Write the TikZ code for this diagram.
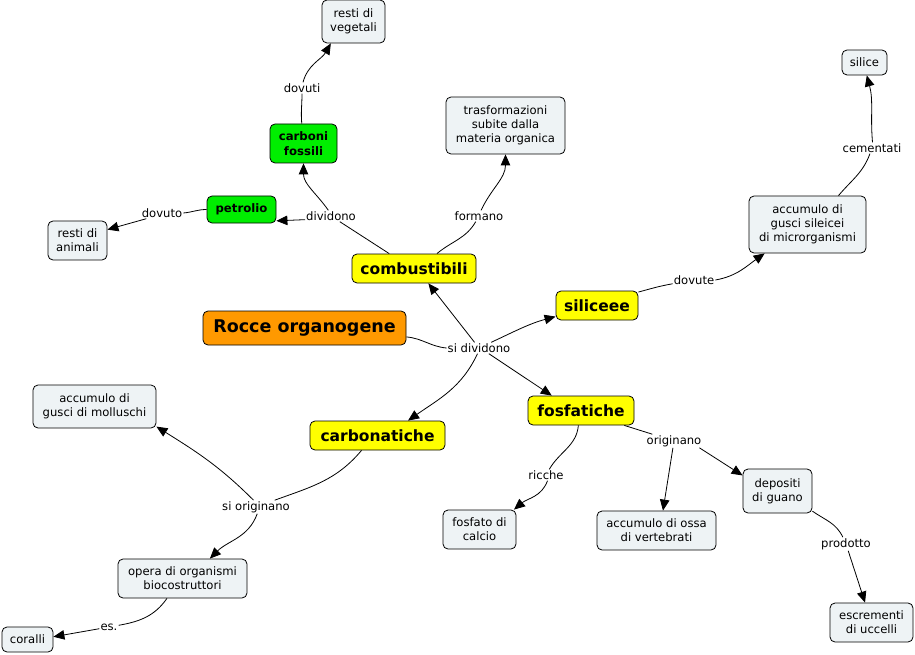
\documentclass[tikz,border=0pt]{standalone}
\usepackage{fontspec}
\setmainfont{DejaVu Sans}
\usetikzlibrary{arrows.meta}
\definecolor{boxfill}{RGB}{238,243,245}
\definecolor{yel}{RGB}{255,255,0}
\definecolor{grn}{RGB}{0,238,0}
\definecolor{org}{RGB}{255,153,0}
\begin{document}
\begin{tikzpicture}[x=1pt,y=1pt,
  base/.style={draw=black, line width=0.8pt, rounded corners=5pt, inner sep=0pt, align=center},
  concept/.style={base, fill=boxfill, font=\fontsize{11.6}{14.2}\selectfont},
  yellowbox/.style={base, fill=yel, font=\fontsize{15.5}{18}\selectfont\bfseries},
  greenbox/.style={base, fill=grn, font=\fontsize{11.7}{14.5}\selectfont\bfseries},
  orangebox/.style={base, fill=org, font=\fontsize{17.5}{20}\selectfont\bfseries},
  lab/.style={fill=white, inner sep=1pt, font=\fontsize{11.6}{14}\selectfont},
  con/.style={draw=black, line width=0.8pt},
  arr/.style={con, -{Triangle[length=11pt,width=9.5pt]}}
]
\useasboundingbox (0,0) rectangle (915,-655);

% concept nodes
\node[concept, minimum width=63pt, minimum height=43pt] (veg) at (353.5,-21.5) {resti di\\vegetali};
\node[greenbox, minimum width=67pt, minimum height=39pt] (carb) at (303.5,-143.5) {carboni\\fossili};
\node[concept, minimum width=119pt, minimum height=57pt] (trasf) at (505.5,-125.5) {trasformazioni\\subite dalla\\materia organica};
\node[greenbox, minimum width=69pt, minimum height=27pt] (petr) at (241.5,-209.5) {petrolio};
\node[concept, minimum width=59pt, minimum height=39pt] (anim) at (77.5,-240.5) {resti di\\animali};
\node[yellowbox, minimum width=124pt, minimum height=29pt] (comb) at (414,-268.5) {combustibili};
\node[orangebox, minimum width=203pt, minimum height=34pt] (rocce) at (304.5,-328) {Rocce organogene};
\node[yellowbox, minimum width=82pt, minimum height=29pt] (silic) at (597,-305.5) {siliceee};
\node[concept, minimum width=117pt, minimum height=57pt] (micro) at (807.5,-224.5) {accumulo di\\gusci sileicei\\di microrganismi};
\node[concept, minimum width=45pt, minimum height=25pt] (silice) at (864.5,-62.5) {silice};
\node[yellowbox, minimum width=106pt, minimum height=29pt] (fosf) at (581,-410.5) {fosfatiche};
\node[yellowbox, minimum width=135pt, minimum height=29pt] (carbo) at (377.5,-435.5) {carbonatiche};
\node[concept, minimum width=123pt, minimum height=43pt] (moll) at (94.5,-406.5) {accumulo di\\gusci di molluschi};
\node[concept, minimum width=129pt, minimum height=39pt] (opera) at (182.5,-578.5) {opera di organismi\\biocostruttori};
\node[concept, minimum width=51pt, minimum height=25pt] (coral) at (27.5,-639.5) {coralli};
\node[concept, minimum width=73pt, minimum height=39pt] (calc) at (479.5,-529.5) {fosfato di\\calcio};
\node[concept, minimum width=119pt, minimum height=39pt] (ossa) at (656.5,-530.5) {accumulo di ossa\\di vertebrati};
\node[concept, minimum width=69pt, minimum height=44pt] (guano) at (777.5,-491) {depositi\\di guano};
\node[concept, minimum width=83pt, minimum height=39pt] (escr) at (871.5,-622.5) {escrementi\\di uccelli};

% link labels
\node[lab] (lsd) at (479,-348) {si dividono};
\node[lab] (ldiv) at (331,-216) {dividono};
\node[lab] (lform) at (479,-216) {formano};
\node[lab] (ldovuti) at (302,-88) {dovuti};
\node[lab] (ldovuto) at (162,-213) {dovuto};
\node[lab] (ldovute) at (694,-280) {dovute};
\node[lab] (lcem) at (872,-148) {cementati};
\node[lab] (lsio) at (256,-507) {si originano};
\node[lab] (les) at (109,-627) {es.};
\node[lab] (lricche) at (546,-475) {ricche};
\node[lab] (lorig) at (674,-441) {originano};
\node[lab] (lprod) at (846,-544) {prodotto};

% connectors
\draw[con] (rocce.-5) to[out=-5,in=175] (lsd.west);
\draw[arr] (lsd) -- (comb.-46);
\draw[arr] (lsd.25) to[out=25,in=195] (silic.195);
\draw[arr] (lsd.-30) -- (fosf.153);
\draw[arr] (lsd.-105) to[out=-115,in=35] (carbo.26);

\draw[con] (comb.149) -- (ldiv);
\draw[arr] (ldiv.188) -- (petr.-18);
\draw[arr] (ldiv.115) to[out=125,in=-90] (carb.south);
\draw[con] (comb.33) to[out=40,in=-120] (lform);
\draw[arr] (lform.70) to[out=65,in=-90] (trasf.south);
\draw[con] (carb.95) to[out=95,in=-90] (ldovuti);
\draw[arr] (ldovuti.80) to[out=75,in=-120] (veg.-136);
\draw[con] (petr.west) to[out=180,in=5] (ldovuto.east);
\draw[arr] (ldovuto.200) -- (anim.20);

\draw[con] (silic.18) to[out=15,in=190] (ldovute);
\draw[arr] (ldovute.east) to[out=10,in=-145] (micro.-146);
\draw[con] (micro.43) to[out=50,in=-110] (lcem);
\draw[arr] (lcem.85) to[out=95,in=-75] (silice.-80);

\draw[con] (fosf.-100) to[out=-95,in=60] (lricche);
\draw[arr] (lricche.-75) to[out=-110,in=40] (calc.30);
\draw[con] (fosf.-19) -- (lorig);
\draw[arr] (lorig) -- (ossa.72);
\draw[arr] (lorig.-15) -- (guano.156);
\draw[con] (guano.-30) to[out=-35,in=115] (lprod);
\draw[arr] (lprod) -- (escr.108);

\draw[con] (carbo.-137) to[out=-130,in=20] (lsio);
\draw[arr] (lsio.110) to[out=135,in=-32] (moll.-18);
\draw[arr] (lsio.-80) to[out=-110,in=45] (opera.36);
\draw[con] (opera.-128) to[out=-125,in=10] (les);
\draw[arr] (les.190) -- (coral.6);
\end{tikzpicture}
\end{document}
